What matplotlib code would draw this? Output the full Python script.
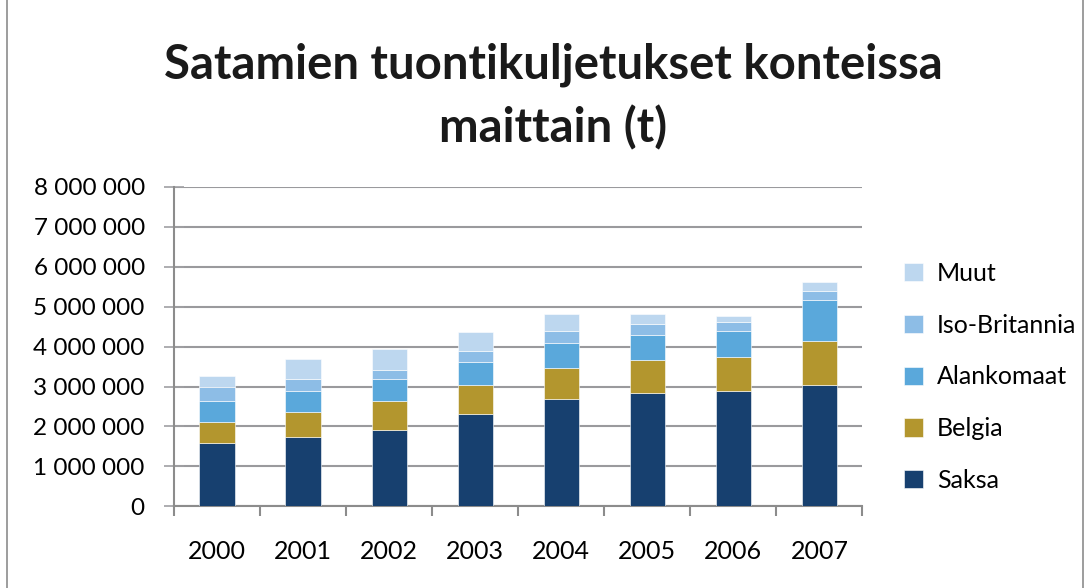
"""
Satamien tuontikuljetukset konteissa maittain (t) - stacked bar chart.
"""

import matplotlib.pyplot as plt
import matplotlib.ticker as mticker
from matplotlib.patches import Rectangle

YEARS = ["2000", "2001", "2002", "2003", "2004", "2005", "2006", "2007"]

SAKSA = [1590000, 1740000, 1900000, 2310000, 2690000, 2840000, 2890000, 3040000]
BELGIA = [510000, 620000, 730000, 730000, 780000, 830000, 840000, 1100000]
ALANKOMAAT = [530000, 530000, 560000, 580000, 620000, 620000, 660000, 1030000]
ISO_BRITANNIA = [350000, 310000, 230000, 260000, 300000, 270000, 220000, 220000]
MUUT = [280000, 480000, 510000, 480000, 440000, 270000, 160000, 220000]

SERIES = [
    ("Saksa", SAKSA, "#17406f"),
    ("Belgia", BELGIA, "#b3962e"),
    ("Alankomaat", ALANKOMAAT, "#5aa8db"),
    ("Iso-Britannia", ISO_BRITANNIA, "#8dbde6"),
    ("Muut", MUUT, "#bdd7ef"),
]

plt.rcParams["font.family"] = ["Lato", "DejaVu Sans"]

fig = plt.figure(figsize=(10.91, 5.88), dpi=100)
ax = fig.add_axes([0.1595, 0.139, 0.631, 0.543])

# chart frame
fig.patches.append(Rectangle((7 / 1091, -0.1), 1076 / 1091, 1.2,
                             transform=fig.transFigure, fill=False,
                             edgecolor="#8c8c8c", linewidth=1.2))

x = range(len(YEARS))
bottom = [0] * len(YEARS)
handles = []
for name, values, color in SERIES:
    bars = ax.bar(x, values, width=0.41, bottom=bottom, color=color,
                  edgecolor="white", linewidth=0.4, label=name, zorder=3)
    handles.append(bars)
    bottom = [b + v for b, v in zip(bottom, values)]

ax.set_ylim(0, 8000000)
ax.set_xlim(-0.5, len(YEARS) - 0.5)
ax.yaxis.set_major_locator(mticker.MultipleLocator(1000000))
ax.yaxis.set_major_formatter(
    mticker.FuncFormatter(lambda v, p: f"{int(v):,}".replace(",", " ")))
ax.grid(axis="y", color="#9a9a9d", linewidth=1.5, zorder=0)

ax.set_xticks(list(x))
ax.set_xticklabels(YEARS)
ax.set_xticks([i - 0.5 for i in range(len(YEARS) + 1)], minor=True)
ax.tick_params(axis="x", which="major", length=0, labelsize=18, pad=24)
ax.tick_params(axis="x", which="minor", length=7, color="#8c8c8c", width=1.5)
ax.tick_params(axis="y", direction="inout", length=14, color="#a0a0a3",
               width=1.2, labelsize=17.5, pad=14)

for side in ("top", "right"):
    ax.spines[side].set_visible(False)
for side in ("left", "bottom"):
    ax.spines[side].set_color("#8c8c8c")
    ax.spines[side].set_linewidth(1.5)

fig.text(0.507, 0.836, "Satamien tuontikuljetukset konteissa\nmaittain (t)",
         ha="center", va="center", fontsize=34, fontweight="bold",
         linespacing=1.5, color="#1a1a1a")

ax.legend(handles[::-1], [s[0] for s in SERIES][::-1],
          loc="center left", bbox_to_anchor=(1.028, 0.405), frameon=False,
          fontsize=18, handlelength=0.75, handleheight=0.75,
          labelspacing=1.15, handletextpad=0.55)

fig.savefig("out.png", dpi=100)
